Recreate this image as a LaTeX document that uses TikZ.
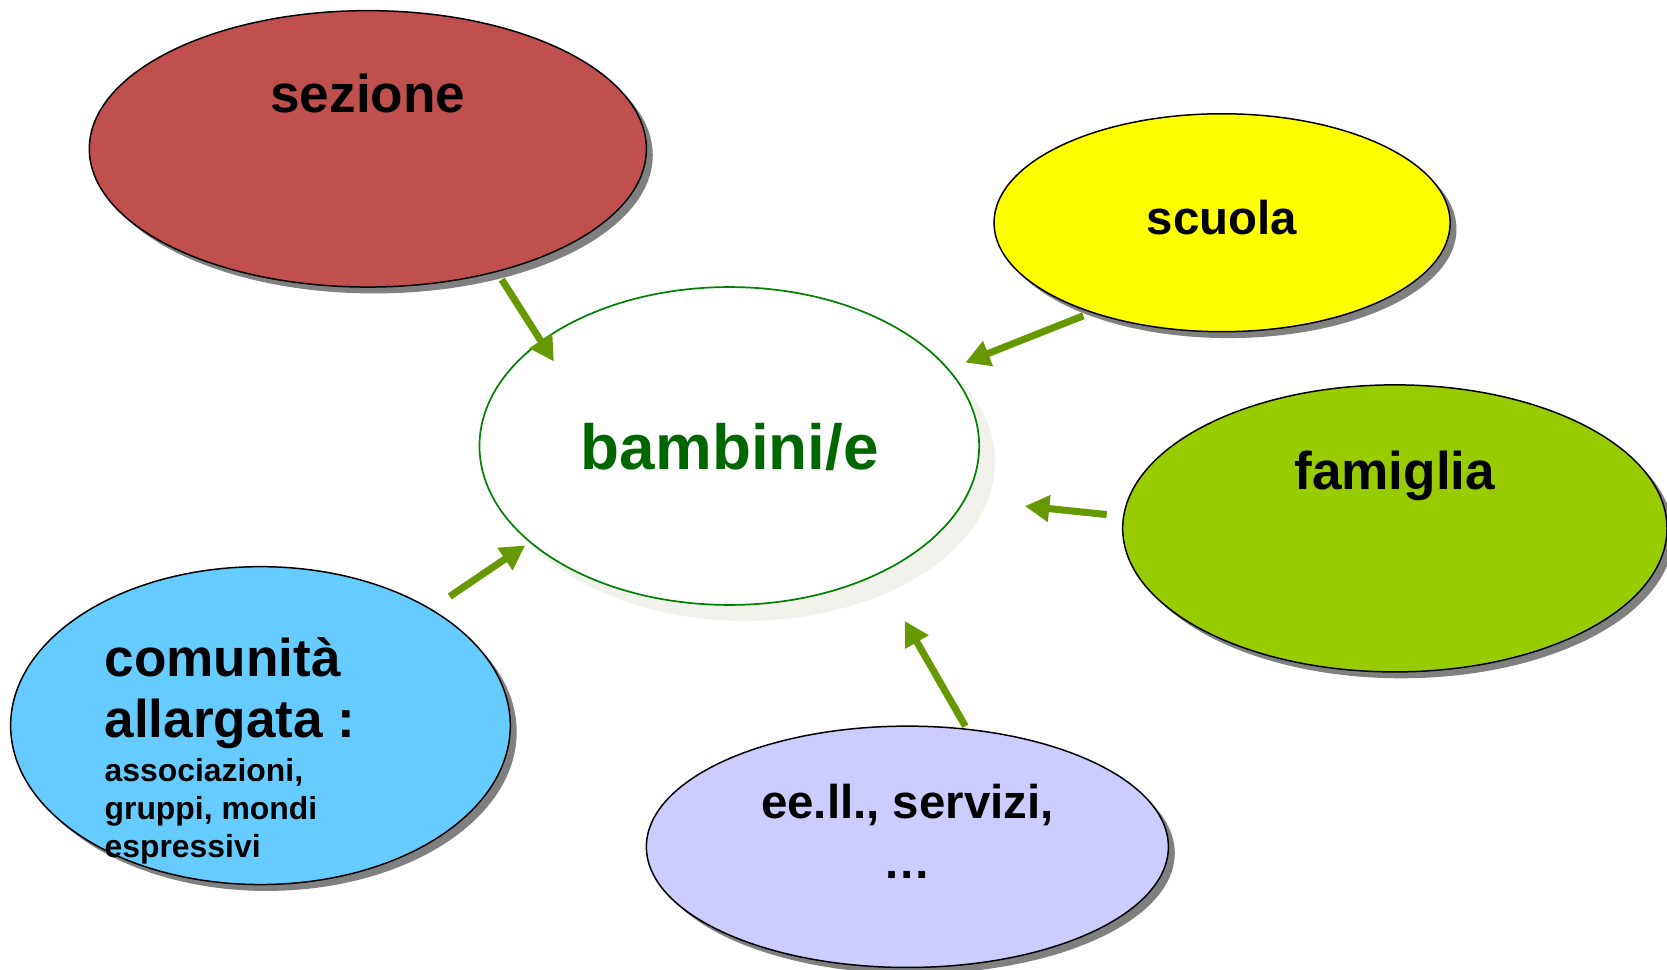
\documentclass[tikz,border=0pt]{standalone}
\usepackage{fontspec}
\setmainfont{Liberation Sans}
\usetikzlibrary{shapes.geometric,shadows,arrows.meta,calc}
\definecolor{csez}{HTML}{C0504D}
\definecolor{cscu}{HTML}{FFFF00}
\definecolor{cfam}{HTML}{99CC00}
\definecolor{ccom}{HTML}{66CCFF}
\definecolor{ceel}{HTML}{CCCCFF}
\definecolor{cbamb}{HTML}{008000}
\definecolor{cbamtext}{HTML}{006600}
\definecolor{carrow}{HTML}{669900}
\definecolor{cshadow}{HTML}{808080}
\definecolor{clightshadow}{HTML}{F2F2EC}
\begin{document}
\begin{tikzpicture}[x=0.5pt,y=-0.5pt,
  blob/.style={ellipse, draw=black, line width=0.7pt, inner sep=0pt,
    drop shadow={shadow xshift=3pt, shadow yshift=-3pt, fill=cshadow, opacity=1}},
  centre/.style={ellipse, draw=cbamb, line width=0.8pt, fill=white, inner sep=0pt,
    drop shadow={shadow xshift=7.5pt, shadow yshift=-7.5pt, fill=clightshadow, opacity=1}},
  lbl/.style={font=\bfseries\fontsize{25pt}{30pt}\selectfont, inner sep=0pt, anchor=base},
  lblm/.style={font=\bfseries\fontsize{22.3pt}{27pt}\selectfont, inner sep=0pt, anchor=base},
  lbls/.style={font=\bfseries\fontsize{15pt}{18pt}\selectfont, inner sep=0pt, anchor=base west},
  arr/.style={draw=carrow, line width=3.3pt, -{Triangle[length=11.5pt,width=12pt]}, fill=carrow}
]
\useasboundingbox (0,0) rectangle (1568,912);

% ellipses
\node[blob, fill=csez, minimum width=262pt, minimum height=130pt] (sez) at (346,140) {};
\node[blob, fill=cscu, minimum width=214.5pt, minimum height=102.5pt] (scu) at (1149.5,209.5) {};
\node[centre, minimum width=235pt, minimum height=149.5pt] (bam) at (686,419.5) {};
\node[blob, fill=cfam, minimum width=256pt, minimum height=135pt] (fam) at (1312,497) {};
\node[blob, fill=ccom, minimum width=235pt, minimum height=149.5pt] (com) at (245,682.5) {};
\node[blob, fill=ceel, minimum width=245.5pt, minimum height=113.5pt] (eel) at (853.5,796.5) {};

% texts
\node[lbl] (tsez) at (346,106) {sezione};
\node[lblm] (tscu) at (1149.5,221) {scuola};
\node[lbl, font=\bfseries\fontsize{30pt}{36pt}\selectfont, text=cbamtext] (tbam) at (686.5,442) {bambini/e};
\node[lbl] (tfam) at (1312,460) {famiglia};
\node[lbl, anchor=base west] (tcom1) at (98,636) {comunità};
\node[lbl, anchor=base west] (tcom2) at (98,694) {allargata :};
\node[lbls] (tcom3) at (98,735) {associazioni,};
\node[lbls] (tcom4) at (98,771) {gruppi, mondi};
\node[lbls] (tcom5) at (98,807) {espressivi};
\node[lblm] (teel1) at (853.5,770) {ee.ll., servizi,};
\node[lblm] (teel2) at (853.5,826) {…};

% arrow end points, tied to the nodes
\coordinate (s1) at ($(sez.center)+(126,123)$);
\coordinate (e1) at ($(bam.center)+(-165,-79.5)$);
\coordinate (s2) at ($(scu.center)+(-130.5,87.5)$);
\coordinate (e2) at ($(bam.center)+(222,-78.5)$);
\coordinate (s3) at ($(fam.center)+(-271,-13)$);
\coordinate (e3) at ($(bam.center)+(278,56.5)$);
\coordinate (s4) at ($(eel.center)+(54.5,-113.5)$);
\coordinate (e4) at ($(bam.center)+(165,164.5)$);
\coordinate (s5) at ($(com.center)+(178,-121.5)$);
\coordinate (e5) at ($(bam.center)+(-192,93.5)$);

\draw[arr] (s1) -- (e1);
\draw[arr] (s2) -- (e2);
\draw[arr] (s3) -- (e3);
\draw[arr] (s4) -- (e4);
\draw[arr] (s5) -- (e5);
\end{tikzpicture}
\end{document}
